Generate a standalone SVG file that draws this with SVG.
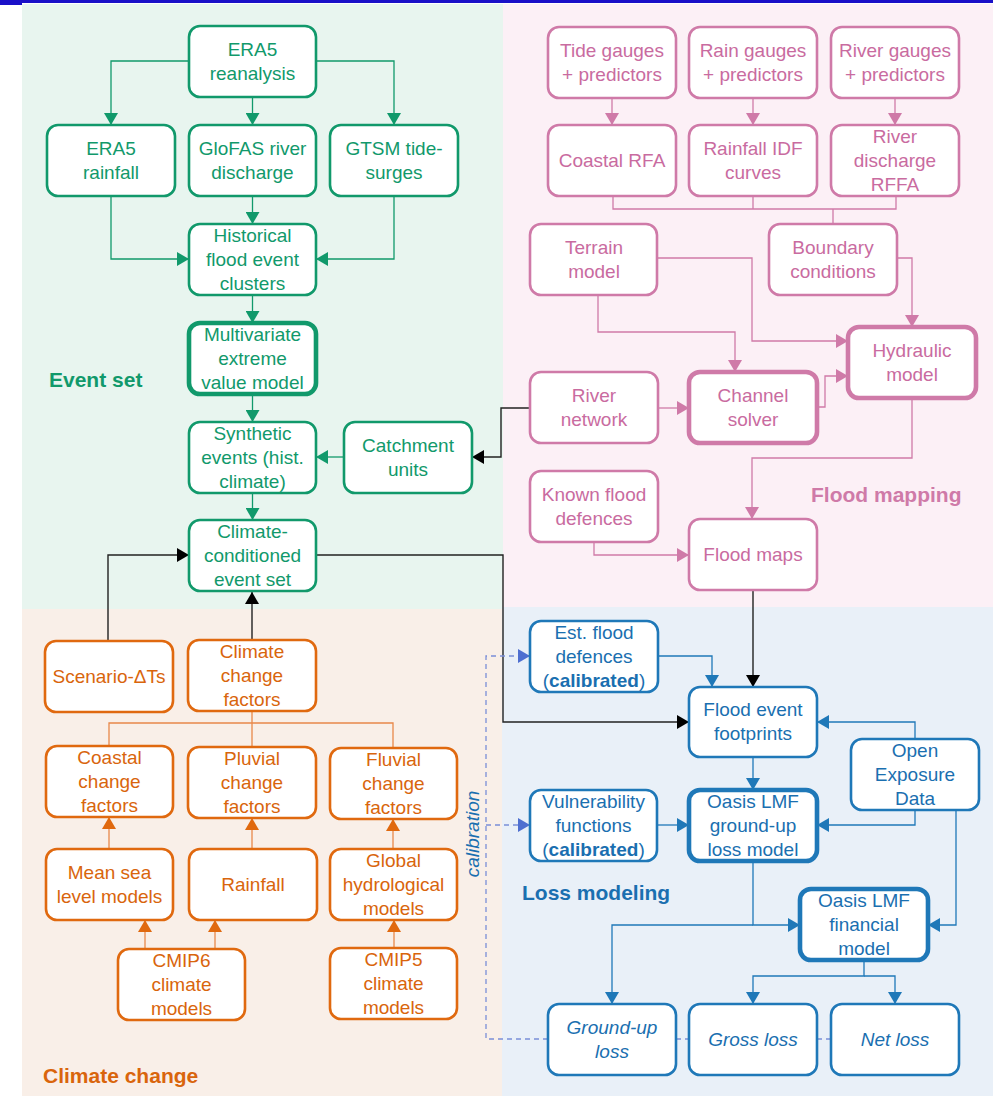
<svg xmlns="http://www.w3.org/2000/svg" width="1000" height="1096" viewBox="0 0 1000 1096">
<style>
text{font-family:"Liberation Sans",Arial,sans-serif;font-size:19px;text-anchor:middle}
.g rect{fill:#fff;stroke:#11996b;stroke-width:2.6}
.g text{fill:#11996b}
.p rect{fill:#fff;stroke:#cf7aa8;stroke-width:2.6}
.p text{fill:#c96ba0}
.o rect{fill:#fff;stroke:#e0690f;stroke-width:2.6}
.o text{fill:#d9650c}
.b rect{fill:#fff;stroke:#1f78b8;stroke-width:2.6}
.b text{fill:#1a6fb0}
rect.thick{stroke-width:4.6}
.lbl{font-weight:bold;font-size:21px;text-anchor:start}
.cg{fill:none;stroke:#11996b;stroke-width:1.3}
.cp{fill:none;stroke:#cf7aa8;stroke-width:1.3}
.co{fill:none;stroke:#e8884a;stroke-width:1.3}
.cb{fill:none;stroke:#1f78b8;stroke-width:1.3}
.ck{fill:none;stroke:#222;stroke-width:1.4}
.cd{fill:none;stroke:#7a8ed8;stroke-width:1.3;stroke-dasharray:5 4}
.it{font-style:italic}
</style>
<defs>
<marker id="ag" viewBox="0 0 12 14" refX="12" refY="7" markerWidth="12" markerHeight="14" markerUnits="userSpaceOnUse" orient="auto"><path d="M0,0 L12,7 L0,14 z" fill="#11996b"/></marker>
<marker id="ap" viewBox="0 0 12 14" refX="12" refY="7" markerWidth="12" markerHeight="14" markerUnits="userSpaceOnUse" orient="auto"><path d="M0,0 L12,7 L0,14 z" fill="#cf7aa8"/></marker>
<marker id="ao" viewBox="0 0 12 14" refX="12" refY="7" markerWidth="12" markerHeight="14" markerUnits="userSpaceOnUse" orient="auto"><path d="M0,0 L12,7 L0,14 z" fill="#e0690f"/></marker>
<marker id="ab" viewBox="0 0 12 14" refX="12" refY="7" markerWidth="12" markerHeight="14" markerUnits="userSpaceOnUse" orient="auto"><path d="M0,0 L12,7 L0,14 z" fill="#1f78b8"/></marker>
<marker id="ak" viewBox="0 0 12 14" refX="12" refY="7" markerWidth="12" markerHeight="14" markerUnits="userSpaceOnUse" orient="auto"><path d="M0,0 L12,7 L0,14 z" fill="#000"/></marker>
<marker id="ad" viewBox="0 0 12 14" refX="12" refY="7" markerWidth="12" markerHeight="14" markerUnits="userSpaceOnUse" orient="auto"><path d="M0,0 L12,7 L0,14 z" fill="#4e6fd0"/></marker>
</defs>
<rect x="0" y="0" width="1000" height="1096" fill="#fff"/>
<g id="panels">
<rect x="22" y="4" width="481" height="605" fill="#e8f5ef"/>
<rect x="503" y="4" width="490" height="603" fill="#fcf0f6"/>
<rect x="22" y="609" width="480" height="487" fill="#f9efe8"/>
<rect x="502" y="607" width="491" height="489" fill="#e9f0f8"/>
<rect x="0" y="0" width="993" height="3" fill="#1a10c8"/>
<rect x="0" y="0" width="22" height="5" fill="#1a10c8"/>
</g>
<g id="labels">
<text class="lbl" x="49" y="387" fill="#11996b">Event set</text>
<text class="lbl" x="811" y="502" fill="#cf7aa8">Flood mapping</text>
<text class="lbl" x="522" y="900" fill="#1a6fb0">Loss modeling</text>
<text class="lbl" x="43" y="1083" fill="#d9650c">Climate change</text>
<text class="it" transform="translate(479,834) rotate(-90)" fill="#1a6fb0" font-size="17">calibration</text>
</g>
<g id="connectors">
<path class="cg" d="M189,61 H111 V125" marker-end="url(#ag)"/>
<path class="cg" d="M316,61 H394 V125" marker-end="url(#ag)"/>
<path class="cg" d="M252.5,97 V125" marker-end="url(#ag)"/>
<path class="cg" d="M252.5,196 V224" marker-end="url(#ag)"/>
<path class="cg" d="M111,196 V259 H189" marker-end="url(#ag)"/>
<path class="cg" d="M394,196 V259 H316" marker-end="url(#ag)"/>
<path class="cg" d="M252.5,295 V323" marker-end="url(#ag)"/>
<path class="cg" d="M252.5,394 V422" marker-end="url(#ag)"/>
<path class="cg" d="M344,457 H316" marker-end="url(#ag)"/>
<path class="cg" d="M252.5,493 V520" marker-end="url(#ag)"/>
<path class="ck" d="M530,408 H501 V457 H472" marker-end="url(#ak)"/>
<path class="ck" d="M316,555 H503 V722 H689" marker-end="url(#ak)"/>
<path class="ck" d="M753,590 V687" marker-end="url(#ak)"/>
<path class="ck" d="M108,641 V555 H189" marker-end="url(#ak)"/>
<path class="ck" d="M252,640 V592" marker-end="url(#ak)"/>
<path class="cp" d="M612,98 V125" marker-end="url(#ap)"/>
<path class="cp" d="M753,98 V125" marker-end="url(#ap)"/>
<path class="cp" d="M895,98 V125" marker-end="url(#ap)"/>
<path class="cp" d="M613,196 V209 H896 V196 M753,196 V209 M833,209 V224"/>
<path class="cp" d="M657,258 H752 V341 H848" marker-end="url(#ap)"/>
<path class="cp" d="M598,295 V332 H735 V372" marker-end="url(#ap)"/>
<path class="cp" d="M897,258 H912 V327" marker-end="url(#ap)"/>
<path class="cp" d="M658,408 H689" marker-end="url(#ap)"/>
<path class="cp" d="M817,407 H825 V376 H848" marker-end="url(#ap)"/>
<path class="cp" d="M912,398 V458 H752 V519" marker-end="url(#ap)"/>
<path class="cp" d="M594,542 V555 H689" marker-end="url(#ap)"/>
<path class="cb" d="M658,656 H712 V687" marker-end="url(#ab)"/>
<path class="cb" d="M753,757 V790" marker-end="url(#ab)"/>
<path class="cb" d="M915,739 V722 H817" marker-end="url(#ab)"/>
<path class="cb" d="M915,810 V825 H817" marker-end="url(#ab)"/>
<path class="cb" d="M956,810 V925 H928" marker-end="url(#ab)"/>
<path class="cb" d="M657,825 H689" marker-end="url(#ab)"/>
<path class="cb" d="M753,861 V925 H800" marker-end="url(#ab)"/>
<path class="cb" d="M753,925 H612 V1004" marker-end="url(#ab)"/>
<path class="cb" d="M864,960 V976 H753 V1004" marker-end="url(#ab)"/>
<path class="cb" d="M864,976 H895 V1004" marker-end="url(#ab)"/>
<path class="cd" d="M548,1039 H486 V656 H530" marker-end="url(#ad)"/>
<path class="cd" d="M486,825 H530" marker-end="url(#ad)"/>
<path class="cd" d="M676,1039 H689 M817,1039 H831"/>
<path class="co" d="M252,711 V723 M109,746 V723 H393 V748 M252,723 V747"/>
<path class="co" d="M109,849 V817" marker-end="url(#ao)"/>
<path class="co" d="M252,849 V818" marker-end="url(#ao)"/>
<path class="co" d="M393,849 V819" marker-end="url(#ao)"/>
<path class="co" d="M145,949 V920" marker-end="url(#ao)"/>
<path class="co" d="M215,949 V920" marker-end="url(#ao)"/>
<path class="co" d="M394,948 V920" marker-end="url(#ao)"/>
</g>
<g class="g">
<g id="era5"><rect x="189" y="26" width="127" height="71" rx="11"/><text x="252.5" y="56">ERA5</text><text x="252.5" y="80">reanalysis</text></g>
<g id="era5rain"><rect x="47" y="125" width="128" height="71" rx="11"/><text x="111" y="155">ERA5</text><text x="111" y="179">rainfall</text></g>
<g id="glofas"><rect x="189" y="125" width="127" height="71" rx="11"/><text x="252.5" y="155">GloFAS river</text><text x="252.5" y="179">discharge</text></g>
<g id="gtsm"><rect x="330" y="125" width="128" height="71" rx="11"/><text x="394" y="155">GTSM tide-</text><text x="394" y="179">surges</text></g>
<g id="hist"><rect x="189" y="224" width="127" height="71" rx="11"/><text x="252.5" y="242">Historical</text><text x="252.5" y="266">flood event</text><text x="252.5" y="290">clusters</text></g>
<g id="mev"><rect class="thick" x="189" y="323" width="127" height="71" rx="11"/><text x="252.5" y="341">Multivariate</text><text x="252.5" y="365">extreme</text><text x="252.5" y="389">value model</text></g>
<g id="synth"><rect x="189" y="422" width="127" height="71" rx="11"/><text x="252.5" y="440">Synthetic</text><text x="252.5" y="464">events (hist.</text><text x="252.5" y="488">climate)</text></g>
<g id="catch"><rect x="344" y="422" width="128" height="71" rx="11"/><text x="408" y="452">Catchment</text><text x="408" y="476">units</text></g>
<g id="ccevent"><rect x="189" y="520" width="127" height="71" rx="11"/><text x="252.5" y="538">Climate-</text><text x="252.5" y="562">conditioned</text><text x="252.5" y="586">event set</text></g>
</g>
<g class="p">
<g id="tide"><rect x="548" y="27" width="128" height="71" rx="11"/><text x="612" y="57">Tide gauges</text><text x="612" y="81">+ predictors</text></g>
<g id="rain"><rect x="689" y="27" width="128" height="71" rx="11"/><text x="753" y="57">Rain gauges</text><text x="753" y="81">+ predictors</text></g>
<g id="rivg"><rect x="831" y="27" width="128" height="71" rx="11"/><text x="895" y="57">River gauges</text><text x="895" y="81">+ predictors</text></g>
<g id="crfa"><rect x="548" y="125" width="128" height="71" rx="11"/><text x="612" y="167">Coastal RFA</text></g>
<g id="idf"><rect x="689" y="125" width="128" height="71" rx="11"/><text x="753" y="155">Rainfall IDF</text><text x="753" y="179">curves</text></g>
<g id="rffa"><rect x="831" y="125" width="128" height="71" rx="11"/><text x="895" y="143">River</text><text x="895" y="167">discharge</text><text x="895" y="191">RFFA</text></g>
<g id="terrain"><rect x="530" y="224" width="127" height="71" rx="11"/><text x="594" y="254">Terrain</text><text x="594" y="278">model</text></g>
<g id="bound"><rect x="769" y="224" width="128" height="71" rx="11"/><text x="833" y="254">Boundary</text><text x="833" y="278">conditions</text></g>
<g id="hydr"><rect class="thick" x="848" y="327" width="128" height="71" rx="11"/><text x="912" y="357">Hydraulic</text><text x="912" y="381">model</text></g>
<g id="chan"><rect class="thick" x="689" y="372" width="128" height="71" rx="11"/><text x="753" y="402">Channel</text><text x="753" y="426">solver</text></g>
<g id="rivnet"><rect x="530" y="372" width="128" height="71" rx="11"/><text x="594" y="402">River</text><text x="594" y="426">network</text></g>
<g id="known"><rect x="530" y="471" width="128" height="71" rx="11"/><text x="594" y="501">Known flood</text><text x="594" y="525">defences</text></g>
<g id="fmaps"><rect x="689" y="519" width="128" height="71" rx="11"/><text x="753" y="561">Flood maps</text></g>
</g>
<g class="b">
<g id="estdef"><rect x="530" y="621" width="128" height="71" rx="11"/><text x="594" y="639">Est. flood</text><text x="594" y="663">defences</text><text x="594" y="687">(<tspan font-weight="bold">calibrated</tspan>)</text></g>
<g id="foot"><rect x="689" y="687" width="128" height="70" rx="11"/><text x="753" y="716">Flood event</text><text x="753" y="740">footprints</text></g>
<g id="oed"><rect x="851" y="739" width="128" height="71" rx="11"/><text x="915" y="757">Open</text><text x="915" y="781">Exposure</text><text x="915" y="805">Data</text></g>
<g id="vuln"><rect x="530" y="790" width="127" height="71" rx="11"/><text x="593.5" y="808">Vulnerability</text><text x="593.5" y="832">functions</text><text x="593.5" y="856">(<tspan font-weight="bold">calibrated</tspan>)</text></g>
<g id="gul"><rect class="thick" x="689" y="790" width="128" height="71" rx="11"/><text x="753" y="808">Oasis LMF</text><text x="753" y="832">ground-up</text><text x="753" y="856">loss model</text></g>
<g id="fin"><rect class="thick" x="800" y="889" width="128" height="71" rx="11"/><text x="864" y="907">Oasis LMF</text><text x="864" y="931">financial</text><text x="864" y="955">model</text></g>
<g id="guloss"><rect x="548" y="1004" width="128" height="71" rx="11"/><text class="it" x="612" y="1034">Ground-up</text><text class="it" x="612" y="1058">loss</text></g>
<g id="gross"><rect x="689" y="1004" width="128" height="71" rx="11"/><text class="it" x="753" y="1046">Gross loss</text></g>
<g id="net"><rect x="831" y="1004" width="128" height="71" rx="11"/><text class="it" x="895" y="1046">Net loss</text></g>
</g>
<g class="o">
<g id="scen"><rect x="45" y="641" width="128" height="71" rx="11"/><text x="109" y="683">Scenario-ΔTs</text></g>
<g id="ccf"><rect x="188" y="640" width="128" height="71" rx="11"/><text x="252" y="658">Climate</text><text x="252" y="682">change</text><text x="252" y="706">factors</text></g>
<g id="coastcf"><rect x="46" y="746" width="127" height="71" rx="11"/><text x="109.5" y="764">Coastal</text><text x="109.5" y="788">change</text><text x="109.5" y="812">factors</text></g>
<g id="pluvcf"><rect x="188" y="747" width="128" height="71" rx="11"/><text x="252" y="765">Pluvial</text><text x="252" y="789">change</text><text x="252" y="813">factors</text></g>
<g id="fluvcf"><rect x="330" y="748" width="127" height="71" rx="11"/><text x="393.5" y="766">Fluvial</text><text x="393.5" y="790">change</text><text x="393.5" y="814">factors</text></g>
<g id="msl"><rect x="46" y="849" width="127" height="71" rx="11"/><text x="109.5" y="879">Mean sea</text><text x="109.5" y="903">level models</text></g>
<g id="rainfall"><rect x="189" y="849" width="128" height="71" rx="11"/><text x="253" y="891">Rainfall</text></g>
<g id="ghm"><rect x="330" y="849" width="127" height="71" rx="11"/><text x="393.5" y="867">Global</text><text x="393.5" y="891">hydrological</text><text x="393.5" y="915">models</text></g>
<g id="cmip6"><rect x="118" y="949" width="127" height="71" rx="11"/><text x="181.5" y="967">CMIP6</text><text x="181.5" y="991">climate</text><text x="181.5" y="1015">models</text></g>
<g id="cmip5"><rect x="330" y="948" width="127" height="71" rx="11"/><text x="393.5" y="966">CMIP5</text><text x="393.5" y="990">climate</text><text x="393.5" y="1014">models</text></g>
</g>
</svg>
